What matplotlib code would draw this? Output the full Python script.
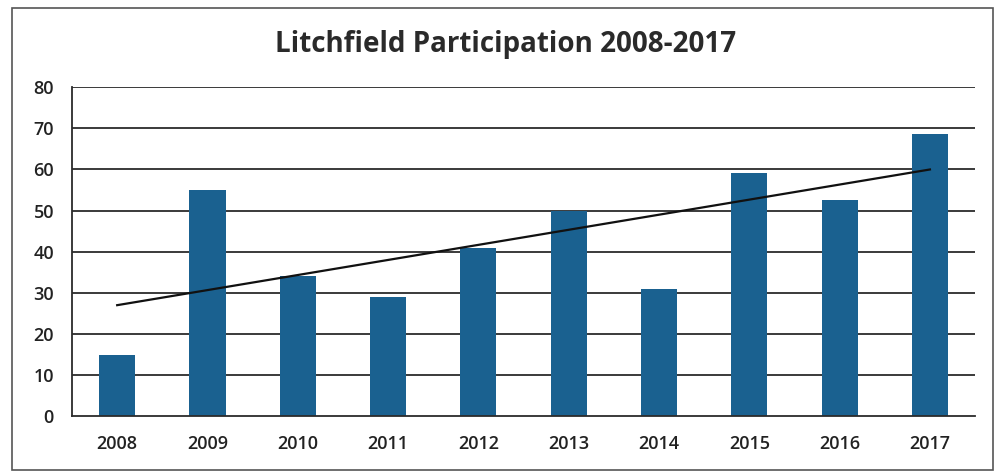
import matplotlib.pyplot as plt
from matplotlib.patches import Rectangle
import numpy as np

# Participation par année
annees = ["2008", "2009", "2010", "2011", "2012", "2013", "2014", "2015", "2016", "2017"]
participants = [15, 55, 34, 29, 41, 50, 31, 59, 52.5, 68.5]
graduations = [0, 10, 20, 30, 40, 50, 60, 70, 80]

couleur_barres = "#1a6190"
couleur_grille = "#2b2b2b"

fig = plt.figure(figsize=(9.96, 4.72), dpi=100)
ax = fig.add_axes([0.0723, 0.1176, 0.9067, 0.6981])

x = np.arange(len(annees))

# Lignes de grille horizontales
for g in graduations[1:]:
    ax.axhline(g, color=couleur_grille, linewidth=1.3, zorder=1)

ax.bar(x, participants, width=0.4, color=couleur_barres, zorder=2)

# Tendance linéaire (moindres carrés)
pente, origine = np.polyfit(x, participants, 1)
ax.plot([x[0], x[-1]], [origine, origine + pente * x[-1]],
        color="#111111", linewidth=1.6, zorder=3)

ax.set_xlim(-0.5, 9.5)
ax.set_ylim(0, 80)
ax.set_xticks(x)
ax.set_xticklabels(annees)
ax.set_yticks(graduations)

for cote in ["top", "right"]:
    ax.spines[cote].set_visible(False)
ax.spines["left"].set_color(couleur_grille)
ax.spines["left"].set_linewidth(1.3)
ax.spines["bottom"].set_color(couleur_grille)
ax.spines["bottom"].set_linewidth(1.3)

ax.tick_params(axis="both", length=0, labelsize=13, labelcolor="#222222")
ax.tick_params(axis="y", pad=13)
ax.tick_params(axis="x", pad=13)
for lbl in ax.get_xticklabels() + ax.get_yticklabels():
    lbl.set_fontweight("semibold")
    lbl.set_family("Open Sans")

fig.text(0.508, 0.905, "Litchfield Participation 2008-2017", ha="center", va="center",
         fontsize=20, fontweight="bold", family="Open Sans", color="#2a2a2a")

# Cadre autour du graphique
fig.patches.append(Rectangle((0.012, 0.004), 0.985, 0.978, transform=fig.transFigure,
                             fill=False, edgecolor="#555555", linewidth=1.2))

fig.savefig("out.png", dpi=100)
